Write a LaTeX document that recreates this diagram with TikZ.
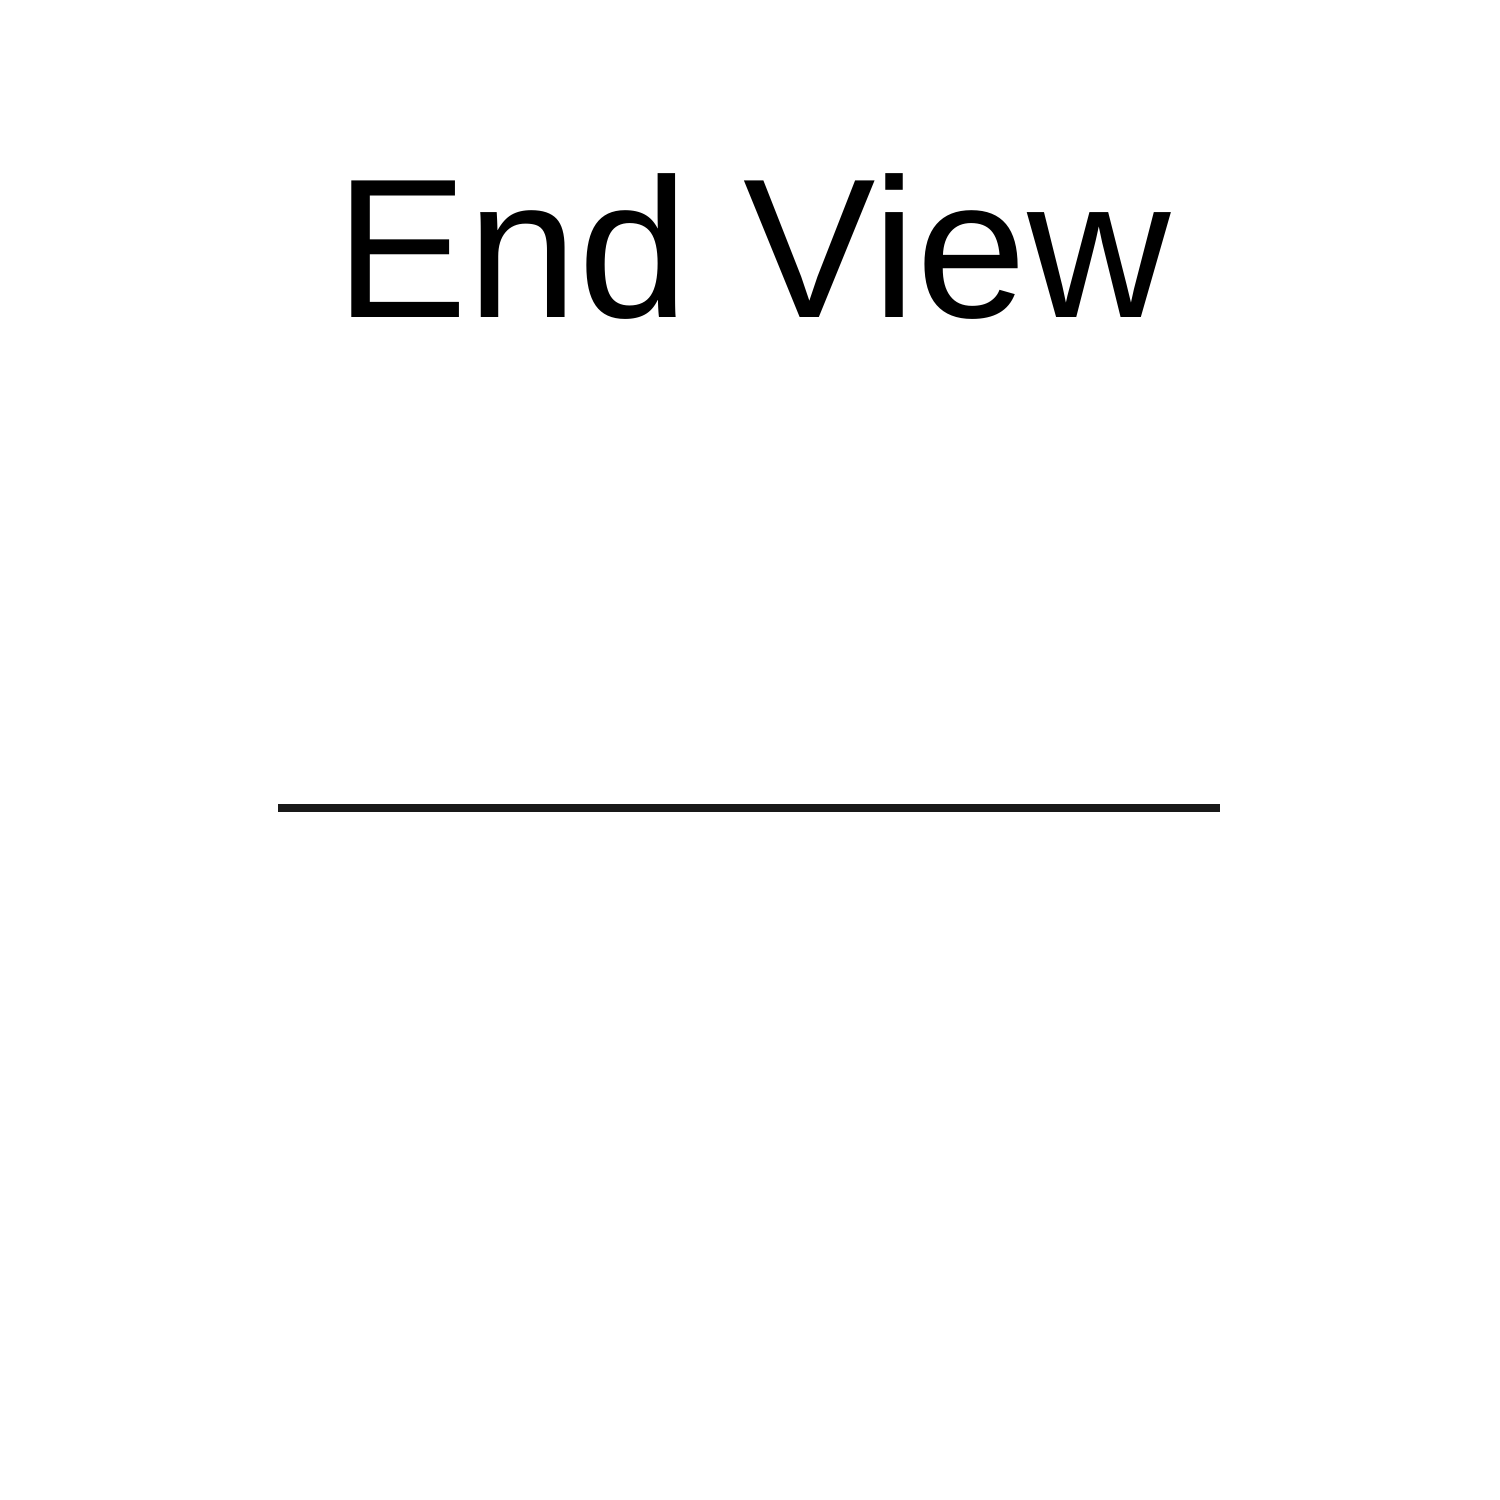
\documentclass[tikz,border=0pt]{standalone}
\usepackage{fontspec}
\setmainfont{Liberation Sans}
\begin{document}
\begin{tikzpicture}[
  titletext/.style={font=\fontsize{56.5}{68}\selectfont, inner sep=0pt, anchor=base},
  rule/.style={line width=2pt, draw=black!90}
]
\useasboundingbox (0,0) rectangle (15,15);
\node[titletext] (title) at (7.53,11.82) {End View};
\coordinate (la) at (2.78,6.92);
\coordinate (lb) at (12.20,6.92);
\draw[rule] (la) -- (lb);
\end{tikzpicture}
\end{document}
